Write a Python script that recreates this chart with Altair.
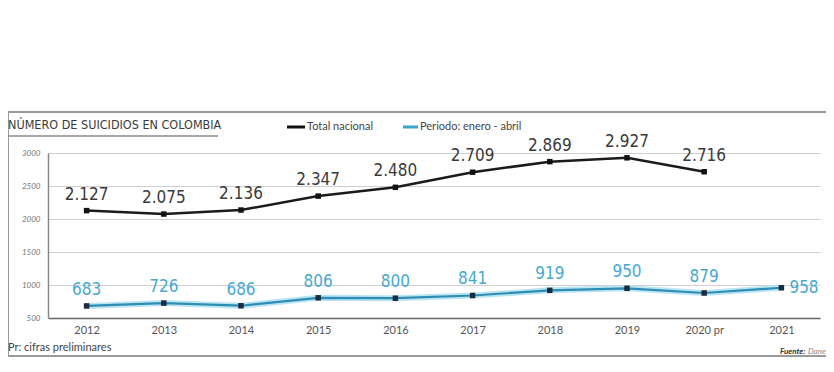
import altair as alt
import pandas as pd

years = ["2012", "2013", "2014", "2015", "2016", "2017", "2018", "2019", "2020 pr", "2021"]
total_nacional = [2127, 2075, 2136, 2347, 2480, 2709, 2869, 2927, 2716, None]
enero_abril = [683, 726, 686, 806, 800, 841, 919, 950, 879, 958]
y_ticks = [500, 1000, 1500, 2000, 2500, 3000]

rows = []
for yr, t, e in zip(years, total_nacional, enero_abril):
    if t is not None:
        rows.append(dict(year=yr, value=t, serie="Total nacional",
                         label=f"{t:,}".replace(",", ".")))
    rows.append(dict(year=yr, value=e, serie="Periodo: enero - abril", label=str(e)))
df = pd.DataFrame(rows)

W, H = 772, 165
NUM_FONT = "DejaVu Sans Condensed, Liberation Sans Narrow, Roboto, sans-serif"
TXT_FONT = "Lato"

x = alt.X("year:O", sort=years,
          scale=alt.Scale(type="point", padding=0.5),
          axis=alt.Axis(title=None, labelAngle=0, labelFont=TXT_FONT, labelFontSize=11,
                        labelColor="#555", domainColor="#666", domainWidth=1.5,
                        ticks=False, labelPadding=6, grid=False))
y = alt.Y("value:Q",
          scale=alt.Scale(domain=[500, 3000], nice=False, zero=False),
          axis=alt.Axis(values=y_ticks, format="d", title=None, grid=True, gridColor="#cfcfcf",
                        gridWidth=1, labelFont=TXT_FONT, labelFontStyle="italic",
                        labelFontSize=8, labelColor="#777", domainColor="#888",
                        domainWidth=1.5, ticks=False, labelPadding=8))

base = alt.Chart(df).encode(x=x, y=y)
tot = base.transform_filter(alt.datum.serie == "Total nacional")
per = base.transform_filter(alt.datum.serie == "Periodo: enero - abril")

LBL = 17
tot_line = tot.mark_line(color="#1b1b1b", strokeWidth=2.5)
tot_pts = tot.mark_point(shape="square", filled=True, size=30, color="#111", opacity=1)
tot_lbl = tot.mark_text(font=NUM_FONT, fontSize=LBL, color="#3a3a3a", baseline="bottom", dy=-7).encode(text="label:N")

per_halo = per.mark_line(color="#b5e2f3", strokeWidth=6, opacity=0.9)
per_line = per.mark_line(color="#2e8db4", strokeWidth=2.2)
per_pts = per.mark_point(shape="square", filled=True, size=30, color="#1c2c3a", opacity=1)
per_lbl = per.transform_filter(alt.datum.year != "2021").mark_text(
    font=NUM_FONT, fontSize=LBL, color="#48a9cf", baseline="bottom", dy=-7).encode(text="label:N")
per_lbl_last = per.transform_filter(alt.datum.year == "2021").mark_text(
    font=NUM_FONT, fontSize=LBL, color="#48a9cf", baseline="middle", align="left", dx=8).encode(text="label:N")

one = pd.DataFrame({"k": [0]})

def txt(s, px, py, **kw):
    return alt.Chart(one).mark_text(align="left", baseline="middle", **kw).encode(
        x=alt.value(px), y=alt.value(py), text=alt.value(s))

def hrule(x1, x2, yy, color, width):
    return alt.Chart(one).mark_rule(color=color, strokeWidth=width).encode(
        x=alt.value(x1), x2=alt.value(x2), y=alt.value(yy))

frame = alt.Chart(one).mark_rect(fill=None, stroke="#9a9a9a", strokeWidth=2).encode(
    x=alt.value(-40), x2=alt.value(783), y=alt.value(-41), y2=alt.value(203))

title = txt("NÚMERO DE SUICIDIOS EN COLOMBIA", -40, -28, font=NUM_FONT, fontSize=12.5, color="#3a3a3a")
underline = hrule(-40, 170, -17, "#8a8a8a", 1.5)
leg1_line = hrule(239, 257, -26, "#111", 3)
leg1_txt = txt("Total nacional", 259, -26, font=TXT_FONT, fontSize=11, color="#444")
leg2_line = hrule(355, 370, -26, "#3aa6cf", 3)
leg2_txt = txt("Periodo: enero - abril", 372, -26, font=TXT_FONT, fontSize=11, color="#444")
note = txt("Pr: cifras preliminares", -40, 195, font=TXT_FONT, fontSize=11, color="#444")
fuente = txt("Fuente:", 732, 199, font=TXT_FONT, fontSize=8, fontStyle="italic", fontWeight="bold", color="#333")
dane = txt("Dane", 760, 199, font=TXT_FONT, fontSize=8, fontStyle="italic", color="#888")

chart = alt.layer(
    frame, per_halo, per_line, per_pts, per_lbl, per_lbl_last,
    tot_line, tot_pts, tot_lbl,
    title, underline, leg1_line, leg1_txt, leg2_line, leg2_txt, note, fuente, dane,
).properties(
    width=W, height=H,
    autosize=alt.AutoSizeParams(type="none"),
    padding={"left": 40, "top": 145, "right": 6, "bottom": 50},
    background="white",
).configure_view(stroke=None)

chart.save("out.html", embed_options={"renderer": "svg", "actions": False})
